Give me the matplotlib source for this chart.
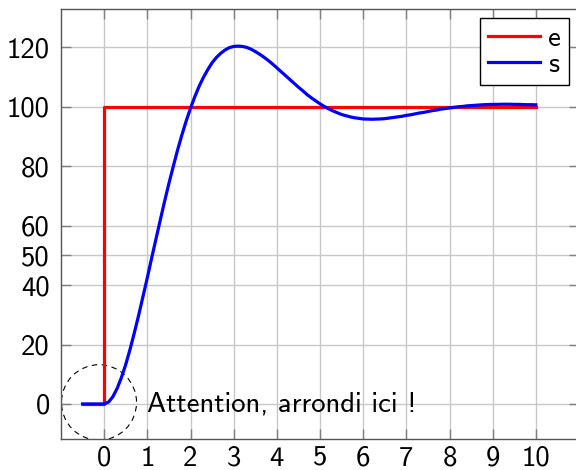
import matplotlib
matplotlib.use("Agg")
import matplotlib.pyplot as plt
from matplotlib.patches import Ellipse

plt.rcParams['font.family'] = ['cmss10', 'DejaVu Sans']
plt.rcParams['axes.unicode_minus'] = False

# input step e
e_t = [-0.5, 0, 0, 10]
e_val = [0, 0, 100, 100]

# output s, every 0.1
s_t = [-0.5] + [i / 10 for i in range(0, 101)]
s_val = [0,
         0.0, 0.6, 2.4, 5.2, 8.9, 13.3, 18.4, 24.0, 29.9, 36.2,
         42.5, 49.1, 55.5, 61.9, 68.2, 74.2, 79.9, 85.4, 90.5, 95.2,
         99.5, 103.4, 106.9, 109.9, 112.5, 114.8, 116.6, 118.0, 119.1, 119.9,
         120.3, 120.4, 120.3, 120.0, 119.4, 118.6, 117.7, 116.7, 115.6, 114.4,
         113.1, 111.8, 110.5, 109.2, 107.9, 106.6, 105.4, 104.1, 103.0, 102.0,
         101.0, 100.1, 99.3, 98.6, 98.0, 97.4, 97.0, 96.6, 96.3, 96.1,
         95.9, 95.85, 95.8, 95.85, 95.9, 96.0, 96.2, 96.4, 96.6, 96.8,
         97.1, 97.3, 97.6, 97.9, 98.1, 98.4, 98.7, 98.9, 99.2, 99.4,
         99.6, 99.8, 100.0, 100.1, 100.3, 100.4, 100.5, 100.6, 100.7, 100.75,
         100.8, 100.8, 100.85, 100.85, 100.85, 100.8, 100.8, 100.75, 100.7, 100.7,
         100.65]

xticks = list(range(0, 11))
yticks = [0, 20, 40, 50, 60, 80, 100, 120]

fig = plt.figure(figsize=(5.76, 4.70), dpi=100)
ax = fig.add_axes([61 / 576, 31 / 470, 518 / 576, 430 / 470])

ax.plot(e_t, e_val, color='red', lw=2.3, label='e')
ax.plot(s_t, s_val, color='blue', lw=2.3, label='s', solid_joinstyle='round')

# dashed circle around the origin
circ = Ellipse((-0.12, 0.5), 1.74, 25.4, fill=False, ls=(0, (5, 4)), lw=0.8,
               color='black')
ax.add_patch(circ)
ax.text(1.0, 0, 'Attention, arrondi ici !', fontsize=20.7, ha='left', va='center')

ax.set_xlim(-1, 11)
ax.set_ylim(-11.8, 132.9)
ax.set_xticks(xticks)
ax.set_yticks(yticks)
ax.grid(True, color='#c8c8c8', lw=1)
ax.set_axisbelow(True)
ax.tick_params(direction='in', length=7.5, width=1, color='#808080',
               top=True, right=True, labelsize=20.7)
ax.tick_params(axis='x', pad=5)
ax.tick_params(axis='y', pad=8)
for sp in ax.spines.values():
    sp.set_color('#555555')
    sp.set_linewidth(1)

leg = ax.legend(loc='upper right', fontsize=20.7, fancybox=False, framealpha=1,
                edgecolor='black', handlelength=1.8, handletextpad=0.3,
                borderpad=0.28, labelspacing=0.05, borderaxespad=0,
                bbox_to_anchor=(0.981, 0.98))
leg.get_frame().set_linewidth(1)

fig.savefig('out.png', dpi=100)
